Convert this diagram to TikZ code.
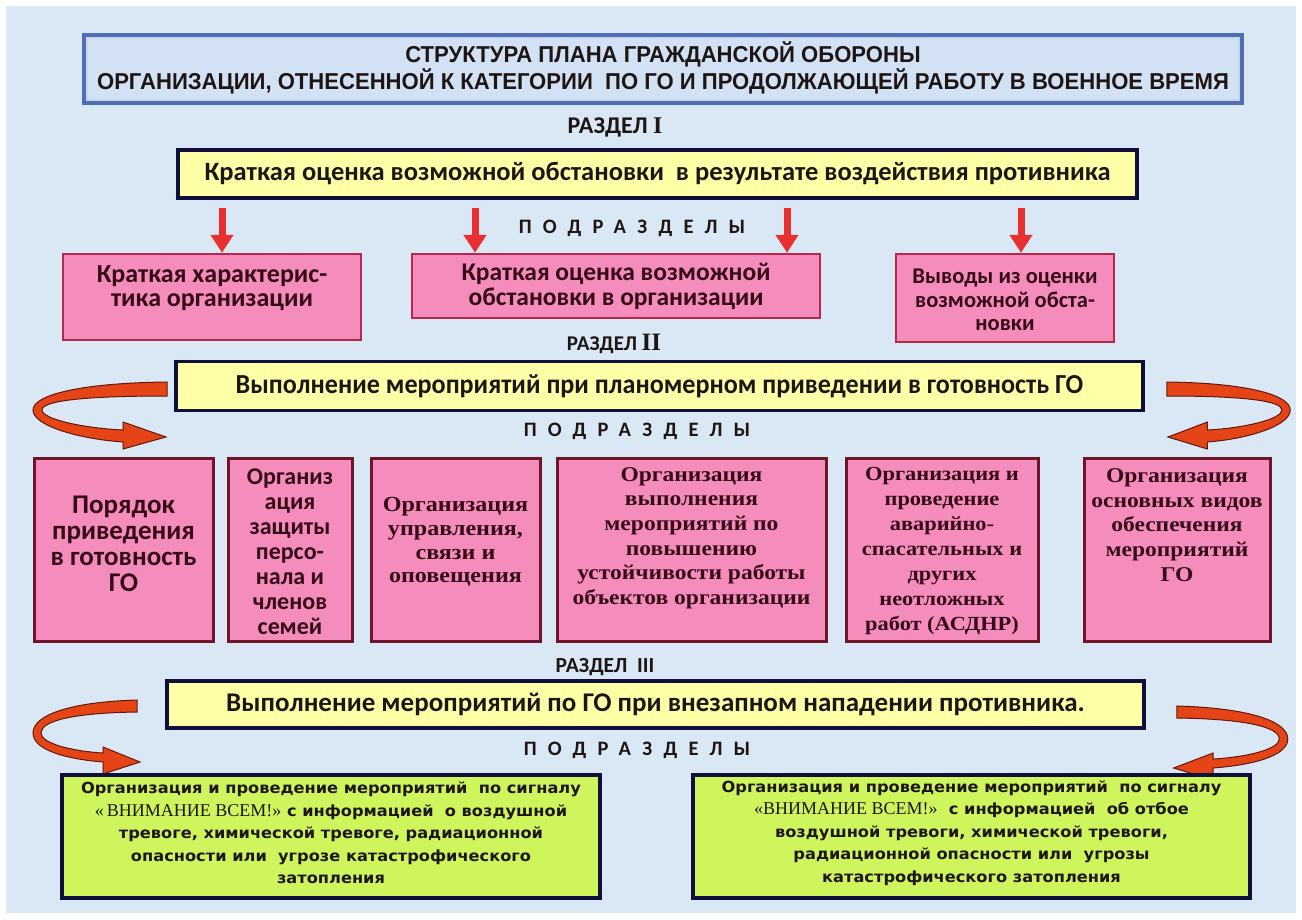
\documentclass[tikz,border=0pt]{standalone}
\usepackage{fontspec}
\setmainfont{Carlito}
\newfontfamily\titlefont[FakeStretch=0.96]{Liberation Sans}
\newfontfamily\calib{Carlito}
\newfontfamily\calibn[FakeStretch=0.95]{Carlito}
\newfontfamily\calibsp[LetterSpace=55]{Carlito}
\newfontfamily\tms{Liberation Serif}
\newfontfamily\tmsw[FakeStretch=1.12]{Liberation Serif}
\newfontfamily\dejav[FakeStretch=1.06]{DejaVu Sans}
\usetikzlibrary{arrows.meta}
\definecolor{bg}{RGB}{218,231,245}
\definecolor{titlebg}{RGB}{210,225,244}
\definecolor{titleb}{RGB}{80,110,180}
\definecolor{navy}{RGB}{15,15,60}
\definecolor{yel}{RGB}{255,255,168}
\definecolor{pinkf}{RGB}{244,140,188}
\definecolor{pinkb1}{RGB}{180,40,80}
\definecolor{pinkb2}{RGB}{110,20,45}
\definecolor{grn}{RGB}{206,245,92}
\definecolor{redA}{RGB}{232,48,48}
\definecolor{curvf}{RGB}{228,68,22}
\definecolor{curvd}{RGB}{100,25,10}
\definecolor{txt}{RGB}{30,22,22}
\definecolor{ptxt}{RGB}{55,10,25}
\begin{document}
\begin{tikzpicture}[x=1pt,y=-1pt,
  ybox/.style={draw=navy,line width=3.5pt,fill=yel,inner sep=0pt},
  pboxa/.style={draw=pinkb1,line width=2.5pt,fill=pinkf,inner sep=0pt},
  pboxb/.style={draw=pinkb2,line width=3pt,fill=pinkf,inner sep=0pt},
  gbox/.style={draw=navy,line width=3.5pt,fill=grn,inner sep=0pt},
  ptext/.style={text=ptxt,align=center,inner sep=0pt},
  lbl/.style={text=txt,inner sep=0pt},
  rarrow/.style={draw=redA,line width=7pt,-{Triangle[width=22pt,length=18pt]}},
  curv/.style={fill=curvf,draw=curvd,line width=1pt}]
\useasboundingbox (0,0) rectangle (1302,919);
\fill[white] (0,0) rectangle (1302,919);
\fill[bg] (6,6) rectangle (1296,913);

% title
\node[draw=titleb,line width=4pt,fill=titlebg,minimum width=1158pt,minimum height=68pt,inner sep=0pt] (title) at (663,69) {};
\draw[white!70!titleb,line width=1.2pt] (title.north west) ++(5,5) rectangle ([xshift=-5pt,yshift=5pt]title.south east);
\node[lbl,align=center,font=\titlefont\bfseries\fontsize{23}{24}\selectfont] (titletext) at (663,68)
 {СТРУКТУРА ПЛАНА ГРАЖДАНСКОЙ ОБОРОНЫ\\ОРГАНИЗАЦИИ, ОТНЕСЕННОЙ К КАТЕГОРИИ\ \ ПО ГО И ПРОДОЛЖАЮЩЕЙ РАБОТУ В ВОЕННОЕ ВРЕМЯ};

% section I
\node[lbl,font=\calib\bfseries\fontsize{24}{24}\selectfont] (r1) at (615,127) {РАЗДЕЛ {\tms I}};
\node[ybox,minimum width=959pt,minimum height=48pt,font=\calib\bfseries\fontsize{26.5}{28}\selectfont,text=txt] (y1) at (657.5,174)
 {Краткая оценка возможной обстановки\ \ в результате воздействия противника};
\node[lbl,font=\calibsp\bfseries\fontsize{20.5}{22}\selectfont] (p1) at (632,228) {ПОДРАЗДЕЛЫ};

\node[pboxa,minimum width=298pt,minimum height=86pt] (A) at (212,297) {};
\node[ptext,font=\calib\bfseries\fontsize{26}{24}\selectfont] (At) at (212,288) {Краткая характерис-\\тика организации};
\node[pboxa,minimum width=408pt,minimum height=64pt] (B) at (616,286) {};
\node[ptext,font=\calib\bfseries\fontsize{25.5}{25}\selectfont] (Bt) at (616,286) {Краткая оценка возможной\\обстановки в организации};
\node[pboxa,minimum width=218pt,minimum height=88pt] (C) at (1005,298) {};
\node[ptext,font=\calib\bfseries\fontsize{22.5}{23.5}\selectfont] (Ct) at (1005,300) {Выводы из оценки\\возможной обста-\\новки};

\coordinate (a1) at (222,208);
\coordinate (a2) at (475,208);
\coordinate (a3) at (787,208);
\coordinate (a4) at (1021,208);
\draw[rarrow] (a1) -- (a1 |- A.north);
\draw[rarrow] (a2) -- (a2 |- B.north);
\draw[rarrow] (a3) -- (a3 |- B.north);
\draw[rarrow] (a4) -- (a4 |- C.north);

% section II
\node[lbl,font=\calib\bfseries\fontsize{21}{22}\selectfont] (r2) at (614,344) {РАЗДЕЛ {\tms\fontsize{25}{25}\selectfont II}};
\node[ybox,minimum width=967pt,minimum height=49pt,font=\calibn\bfseries\fontsize{27.5}{28}\selectfont,text=txt] (y2) at (659.5,386)
 {Выполнение мероприятий при планомерном приведении в готовность ГО};
\node[lbl,font=\calibsp\bfseries\fontsize{20.5}{22}\selectfont] (p2) at (637,431) {ПОДРАЗДЕЛЫ};

% curved arrows II
\path[curv] (167,382) .. controls (80,383) and (33,395) .. (33,410) .. controls (33,426) and (80,439) .. (123,442) -- (123,449) -- (166,437) -- (123,422) -- (123,430) .. controls (82,428) and (42,419) .. (42,410) .. controls (42,401) and (82,396) .. (167,396) -- cycle;
\begin{scope}[shift={(1320.6,0)},xscale=-0.92]
\path[curv] (167,382) .. controls (80,383) and (33,395) .. (33,410) .. controls (33,426) and (80,439) .. (123,442) -- (123,449) -- (166,437) -- (123,422) -- (123,430) .. controls (82,428) and (42,419) .. (42,410) .. controls (42,401) and (82,396) .. (167,396) -- cycle;
\end{scope}

% row 2 boxes
\node[pboxb,minimum width=179pt,minimum height=183pt] (b1) at (123.5,549.5) {};
\node[ptext,font=\calib\bfseries\fontsize{27}{26}\selectfont] (b1t) at (123.5,544) {Порядок\\приведения\\в готовность\\ГО};
\node[pboxb,minimum width=124pt,minimum height=183pt] (b2) at (290,549.5) {};
\node[ptext,font=\calib\bfseries\fontsize{24}{25}\selectfont] (b2t) at (290,552) {Организ\\ация\\защиты\\персо-\\нала и\\членов\\семей};
\node[pboxb,minimum width=169pt,minimum height=183pt] (b3) at (455.5,549.5) {};
\node[ptext,font=\tmsw\bfseries\fontsize{21.5}{23.7}\selectfont] (b3t) at (455.5,542) {Организация\\управления,\\связи и\\оповещения};
\node[pboxb,minimum width=269pt,minimum height=183pt] (b4) at (691.5,549.5) {};
\node[ptext,font=\tmsw\bfseries\fontsize{21}{24.6}\selectfont] (b4t) at (691.5,538) {Организация\\выполнения\\мероприятий по\\повышению\\устойчивости работы\\объектов организации};
\node[pboxb,minimum width=192pt,minimum height=183pt] (b5) at (942,549.5) {};
\node[ptext,font=\tmsw\bfseries\fontsize{20}{25}\selectfont] (b5t) at (942,551) {Организация и\\проведение\\аварийно-\\спасательных и\\других\\неотложных\\работ (АСДНР)};
\node[pboxb,minimum width=186pt,minimum height=183pt] (b6) at (1177,549.5) {};
\node[ptext,font=\tmsw\bfseries\fontsize{21}{24.7}\selectfont] (b6t) at (1177,525) {Организация\\основных видов\\обеспечения\\мероприятий\\ГО};

% section III
\node[lbl,font=\calib\bfseries\fontsize{21.5}{22}\selectfont] (r3) at (605,667) {РАЗДЕЛ\ \ III};
\node[ybox,minimum width=977pt,minimum height=47pt,font=\calib\bfseries\fontsize{27}{28}\selectfont,text=txt] (y3) at (655.5,704.5)
 {Выполнение мероприятий по ГО при внезапном нападении противника.};
\node[lbl,font=\calibsp\bfseries\fontsize{20.5}{22}\selectfont] (p3) at (637,750) {ПОДРАЗДЕЛЫ};

% curved arrows III
\path[curv] (137,700) .. controls (70,702) and (33,715) .. (33,733) .. controls (33,750) and (66,759) .. (103,762) -- (103,774) -- (140,762) -- (103,747) -- (103,753) .. controls (70,751) and (41,743) .. (41,733) .. controls (41,721) and (72,713) .. (137,712) -- cycle;
\begin{scope}[shift={(1323,6)},xscale=-1.067]
\path[curv] (137,700) .. controls (70,702) and (33,715) .. (33,733) .. controls (33,750) and (66,759) .. (103,762) -- (103,774) -- (140,762) -- (103,747) -- (103,753) .. controls (70,751) and (41,743) .. (41,733) .. controls (41,721) and (72,713) .. (137,712) -- cycle;
\end{scope}

% green boxes
\node[gbox,minimum width=538pt,minimum height=123pt] (g1) at (331,836.5) {};
\node[lbl,align=center,font=\dejav\bfseries\fontsize{15.3}{22.5}\selectfont] (g1t) at (331,833)
 {Организация и проведение мероприятий\ \ по сигналу\\{\tms\mdseries\fontsize{18}{18}\selectfont«\,ВНИМАНИЕ ВСЕМ!»} с информацией\ \ о воздушной\\тревоге, химической тревоге, радиационной\\опасности или\ \ угрозе катастрофического\\затопления};
\node[gbox,minimum width=557pt,minimum height=123pt] (g2) at (971.5,836.5) {};
\node[lbl,align=center,font=\dejav\bfseries\fontsize{15.3}{22.5}\selectfont] (g2t) at (971.5,833)
 {Организация и проведение мероприятий\ \ по сигналу\\{\tms\mdseries\fontsize{18}{18}\selectfont«ВНИМАНИЕ ВСЕМ!»}\ \ с информацией\ \ об отбое\\воздушной тревоги, химической тревоги,\\радиационной опасности или\ \ угрозы\\катастрофического затопления};
\end{tikzpicture}
\end{document}
